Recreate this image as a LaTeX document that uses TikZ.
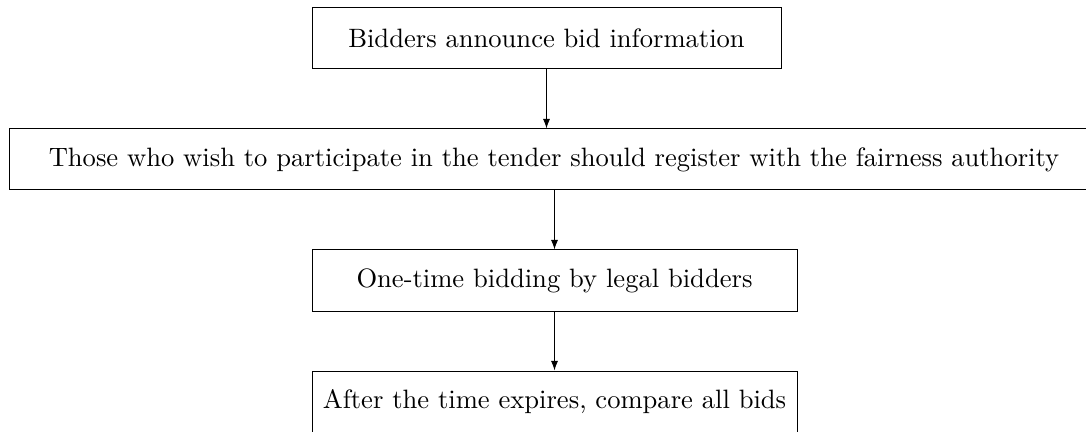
\documentclass[tikz,border=0pt]{standalone}
\usetikzlibrary{arrows.meta}
\begin{document}
\begin{tikzpicture}[x=0.4pt,y=-0.4pt,
  box/.style={draw, rectangle, line width=0.4pt, inner sep=0pt, font=\fontsize{10.63}{12.8}\selectfont},
  conn/.style={-{Latex[length=3.8pt,width=2.8pt]}, line width=0.4pt}]
\useasboundingbox (0,0) rectangle (1086,432);
\node[box, minimum width=469*0.4pt, minimum height=61*0.4pt] (a) at (546.5,38.5) {Bidders announce bid information};
\node[box, minimum width=1090*0.4pt, minimum height=61*0.4pt] (b) at (554,159.5) {Those who wish to participate in the tender should register with the fairness authority};
\node[box, minimum width=485*0.4pt, minimum height=62*0.4pt] (c) at (554.5,281) {One-time bidding by legal bidders};
\node[box, minimum width=485*0.4pt, minimum height=62*0.4pt] (d) at (554.5,402) {After the time expires, compare all bids};
\draw[conn] (a.south) -- (a.south |- b.north);
\draw[conn] (b.south -| c.north) -- (c.north);
\draw[conn] (c.south) -- (d.north);
\end{tikzpicture}
\end{document}
